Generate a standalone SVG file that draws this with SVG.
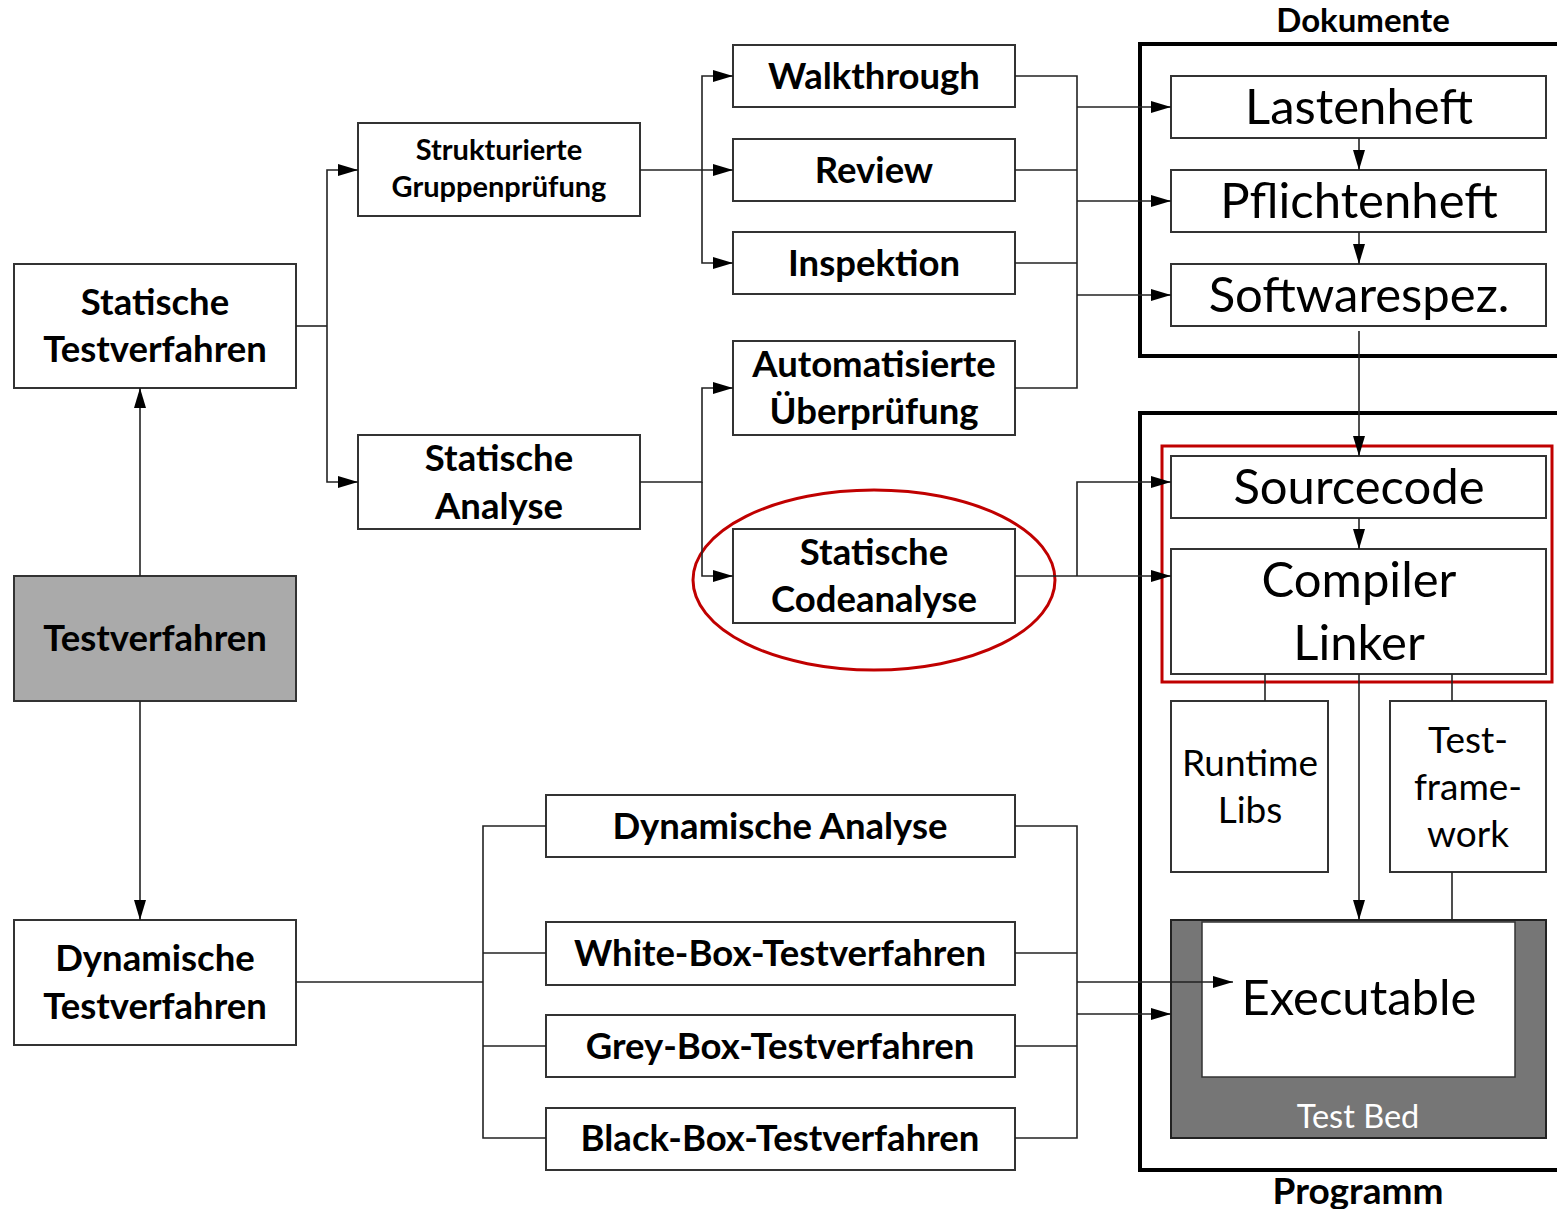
<svg xmlns="http://www.w3.org/2000/svg" width="1557" height="1209" viewBox="0 0 1557 1209">
<style>
.box{fill:#fff;stroke:#333;stroke-width:2}
.grp{fill:none;stroke:#000;stroke-width:4}
.b{font-family:Lato,"Open Sans",sans-serif;font-weight:bold;fill:#000;text-anchor:middle;font-size:36.5px}
.r{font-family:Lato,"Open Sans",sans-serif;fill:#000;text-anchor:middle;font-size:49px}
.s{font-size:37px}
.c{fill:none;stroke:#222;stroke-width:1.6}
.a{marker-end:url(#ah)}
</style>
<defs>
<marker id="ah" markerUnits="userSpaceOnUse" markerWidth="20" markerHeight="12" viewBox="0 0 20 12" refX="20" refY="6" orient="auto">
<path d="M0,0 L20,6 L0,12 z" fill="#000"/>
</marker>
</defs>
<rect width="1557" height="1209" fill="#fff"/>

<g id="dokumente-group">
<rect class="grp" x="1140" y="44" width="430" height="312"/>
<text class="b" x="1363" y="32" style="font-size:33px">Dokumente</text>
</g>
<g id="programm-group">
<rect class="grp" x="1140" y="413" width="430" height="757"/>
<text class="b" x="1358" y="1204" style="font-size:37px">Programm</text>
</g>

<g id="statische-testverfahren">
<rect class="box" x="14" y="264" width="282" height="124"/>
<text class="b" x="155" y="315">Statische</text>
<text class="b" x="155" y="362">Testverfahren</text>
</g>
<g id="testverfahren">
<rect class="box" x="14" y="576" width="282" height="125" style="fill:#aaaaaa"/>
<text class="b" x="155" y="651">Testverfahren</text>
</g>
<g id="dynamische-testverfahren">
<rect class="box" x="14" y="920" width="282" height="125"/>
<text class="b" x="155" y="971">Dynamische</text>
<text class="b" x="155" y="1019">Testverfahren</text>
</g>
<g id="strukturierte-gruppenpruefung">
<rect class="box" x="358" y="123" width="282" height="93"/>
<text class="b" x="499" y="160" style="font-size:29px">Strukturierte</text>
<text class="b" x="499" y="197" style="font-size:29px">Gruppenprüfung</text>
</g>
<g id="statische-analyse">
<rect class="box" x="358" y="435" width="282" height="94"/>
<text class="b" x="499" y="471">Statische</text>
<text class="b" x="499" y="519">Analyse</text>
</g>
<g id="walkthrough">
<rect class="box" x="733" y="45" width="282" height="62"/>
<text class="b" x="874" y="89">Walkthrough</text>
</g>
<g id="review">
<rect class="box" x="733" y="139" width="282" height="62"/>
<text class="b" x="874" y="183">Review</text>
</g>
<g id="inspektion">
<rect class="box" x="733" y="232" width="282" height="62"/>
<text class="b" x="874" y="276">Inspektion</text>
</g>
<g id="automatisierte-ueberpruefung">
<rect class="box" x="733" y="341" width="282" height="94"/>
<text class="b" x="874" y="377">Automatisierte</text>
<text class="b" x="874" y="424">Überprüfung</text>
</g>
<g id="statische-codeanalyse">
<rect class="box" x="733" y="529" width="282" height="94"/>
<text class="b" x="874" y="565">Statische</text>
<text class="b" x="874" y="612">Codeanalyse</text>
</g>
<g id="dynamische-analyse">
<rect class="box" x="546" y="795" width="469" height="62"/>
<text class="b" x="780" y="839">Dynamische Analyse</text>
</g>
<g id="white-box">
<rect class="box" x="546" y="922" width="469" height="63"/>
<text class="b" x="780" y="966">White-Box-Testverfahren</text>
</g>
<g id="grey-box">
<rect class="box" x="546" y="1015" width="469" height="62"/>
<text class="b" x="780" y="1059">Grey-Box-Testverfahren</text>
</g>
<g id="black-box">
<rect class="box" x="546" y="1108" width="469" height="62"/>
<text class="b" x="780" y="1151">Black-Box-Testverfahren</text>
</g>

<g id="lastenheft">
<rect class="box" x="1171" y="76" width="375" height="62"/>
<text class="r" x="1359" y="124">Lastenheft</text>
</g>
<g id="pflichtenheft">
<rect class="box" x="1171" y="170" width="375" height="62"/>
<text class="r" x="1359" y="218">Pflichtenheft</text>
</g>
<g id="softwarespez">
<rect class="box" x="1171" y="264" width="375" height="62"/>
<text class="r" x="1359" y="312">Softwarespez.</text>
</g>
<g id="sourcecode">
<rect class="box" x="1171" y="456" width="375" height="62"/>
<text class="r" x="1359" y="504">Sourcecode</text>
</g>
<g id="compiler-linker">
<rect class="box" x="1171" y="549" width="375" height="125"/>
<text class="r" x="1359" y="597">Compiler</text>
<text class="r" x="1359" y="660">Linker</text>
</g>
<g id="runtime-libs">
<rect class="box" x="1171" y="701" width="157" height="171"/>
<text class="r s" x="1250" y="776">Runtime</text>
<text class="r s" x="1250" y="823">Libs</text>
</g>
<g id="testframework">
<rect class="box" x="1390" y="701" width="156" height="171"/>
<text class="r s" x="1468" y="753">Test-</text>
<text class="r s" x="1468" y="800">frame-</text>
<text class="r s" x="1468" y="847">work</text>
</g>
<g id="test-bed">
<rect x="1171" y="920" width="375" height="218" fill="#767676" stroke="#222" stroke-width="2"/>
<rect x="1202" y="922" width="313" height="155" fill="#fff" stroke="#333" stroke-width="1.5"/>
<text class="r" x="1359" y="1015">Executable</text>
<text class="r" x="1358" y="1128" style="fill:#fff;font-size:32.5px">Test Bed</text>
</g>

<g id="highlights">
<rect x="1162" y="446" width="390" height="236" fill="none" stroke="#c00000" stroke-width="3"/>
<ellipse cx="874" cy="580" rx="181" ry="90" fill="none" stroke="#c00000" stroke-width="3"/>
</g>

<g id="connectors">
<path class="c a" d="M140,576 V388"/>
<path class="c a" d="M140,701 V920"/>
<path class="c" d="M296,326 H327"/>
<path class="c a" d="M327,326 V170 H358"/>
<path class="c a" d="M327,326 V482 H358"/>
<path class="c a" d="M640,170 H733"/>
<path class="c a" d="M702,170 V76 H733"/>
<path class="c a" d="M702,170 V263 H733"/>
<path class="c a" d="M640,482 H702 V388 H733"/>
<path class="c a" d="M702,482 V576 H733"/>
<path class="c" d="M1015,76 H1077 V388 H1015"/>
<path class="c" d="M1015,170 H1077"/>
<path class="c" d="M1015,263 H1077"/>
<path class="c a" d="M1077,107 H1171"/>
<path class="c a" d="M1077,201 H1171"/>
<path class="c a" d="M1077,295 H1171"/>
<path class="c a" d="M1359,138 V170"/>
<path class="c a" d="M1359,232 V264"/>
<path class="c a" d="M1359,331 V456"/>
<path class="c a" d="M1015,576 H1171"/>
<path class="c a" d="M1077,576 V482 H1171"/>
<path class="c a" d="M1359,518 V549"/>
<path class="c a" d="M1359,674 V920"/>
<path class="c" d="M1265,674 V701"/>
<path class="c" d="M1452,674 V701"/>
<path class="c" d="M1452,872 V920"/>
<path class="c" d="M296,982 H483"/>
<path class="c" d="M546,826 H483 V1138 H546"/>
<path class="c" d="M483,953 H546"/>
<path class="c" d="M483,1046 H546"/>
<path class="c" d="M1015,826 H1077 V1138 H1015"/>
<path class="c" d="M1015,953 H1077"/>
<path class="c" d="M1015,1046 H1077"/>
<path class="c a" d="M1077,982 H1233"/>
<path class="c a" d="M1077,1014 H1171"/>
</g>
</svg>
